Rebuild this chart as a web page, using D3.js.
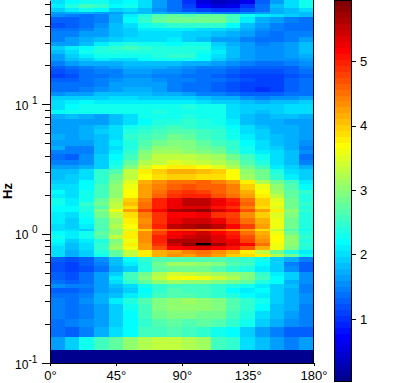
<!DOCTYPE html>
<html>
<head>
<meta charset="utf-8">
<script src="https://cdn.jsdelivr.net/npm/d3@7"></script>
<style>
  html, body { margin: 0; padding: 0; background: #fff; }
  svg { display: block; }
  text { font-family: "Liberation Sans", Arial, sans-serif; fill: #000; }
</style>
</head>
<body>
<div id="chart"></div>
<script>
// bin edges along each axis, power rows run from the highest frequency down
const angleEdges = d3.range(0, 181, 10);
const hzEdges = [64, 59.6, 55.5, 51.7, 49.9, 47.3, 42.5, 38.8, 36.8, 33.1, 30.3, 28.2, 26.3, 24.5, 22.8, 21.6,
    19.8, 18.7, 17.1, 16.0, 14.9, 13.6, 12.4, 11.6, 10.8, 10.05, 9.03, 8.41, 7.69, 6.92, 6.44, 5.89, 5.29, 4.76,
    4.43, 4.13, 3.71, 3.39, 3.16, 2.89, 2.60, 2.42, 2.17, 2.02, 1.88, 1.76, 1.64, 1.55, 1.47, 1.32, 1.19, 1.09,
    1.05, 0.976, 0.909, 0.847, 0.802, 0.747, 0.696, 0.656, 0.604, 0.562, 0.505, 0.470, 0.438, 0.408, 0.380,
    0.348, 0.318, 0.286, 0.252, 0.219, 0.190, 0.159, 0.126, 0.1];

const power = [
    [2.0, 2.2, 2.3, 2.3, 2.1, 2.2, 2.0, 1.65, 1.35, 0.95, 0.55, 0.3, 0.4, 0.6, 1.25, 1.65, 2.05, 2.3],
    [2.1, 2.4, 2.55, 2.45, 2.2, 2.3, 2.0, 1.65, 1.4, 1.1, 0.75, 0.5, 0.65, 0.95, 1.4, 1.8, 2.05, 2.25],
    [1.95, 2.15, 2.3, 2.2, 1.95, 2.0, 1.85, 1.55, 1.4, 1.2, 1.05, 1.0, 1.0, 1.15, 1.4, 1.7, 1.85, 2.0],
    [1.6, 1.7, 1.7, 1.65, 1.65, 1.8, 1.8, 1.7, 1.65, 1.65, 1.55, 1.5, 1.5, 1.55, 1.65, 1.7, 1.8, 1.8],
    [1.55, 1.45, 1.4, 1.45, 1.7, 2.1, 2.4, 2.65, 2.75, 2.7, 2.75, 2.75, 2.55, 2.25, 2.15, 2.0, 1.9, 1.8],
    [1.3, 1.3, 1.4, 1.5, 1.75, 2.2, 2.45, 2.75, 2.85, 2.85, 2.85, 2.8, 2.55, 2.1, 1.7, 1.65, 1.45, 1.4],
    [1.15, 1.3, 1.4, 1.55, 1.8, 2.0, 2.25, 2.4, 2.5, 2.5, 2.5, 2.45, 2.2, 1.85, 1.6, 1.5, 1.4, 1.4],
    [1.4, 1.4, 1.45, 1.6, 1.8, 1.9, 2.1, 2.1, 2.15, 2.1, 2.05, 2.05, 1.9, 1.7, 1.55, 1.45, 1.4, 1.4],
    [1.5, 1.5, 1.65, 1.65, 1.8, 1.9, 2.0, 2.0, 2.0, 1.95, 1.9, 1.8, 1.75, 1.6, 1.5, 1.4, 1.45, 1.5],
    [1.5, 1.6, 1.7, 1.8, 1.95, 2.0, 2.05, 2.05, 2.1, 1.95, 1.8, 1.65, 1.6, 1.5, 1.4, 1.4, 1.45, 1.6],
    [1.6, 1.65, 1.85, 2.15, 2.3, 2.4, 2.3, 2.25, 2.2, 2.3, 2.25, 1.95, 1.75, 1.6, 1.5, 1.55, 1.6, 1.8],
    [1.9, 2.1, 2.2, 2.4, 2.5, 2.55, 2.45, 2.4, 2.4, 2.4, 2.35, 2.05, 1.8, 1.65, 1.55, 1.55, 1.65, 1.85],
    [1.8, 2.0, 2.25, 2.35, 2.35, 2.4, 2.35, 2.35, 2.35, 2.35, 2.25, 2.1, 1.8, 1.65, 1.55, 1.55, 1.65, 1.85],
    [1.65, 1.9, 2.15, 2.25, 2.25, 2.3, 2.3, 2.35, 2.45, 2.5, 2.2, 2.05, 1.85, 1.65, 1.55, 1.55, 1.65, 1.7],
    [1.65, 1.8, 1.9, 2.1, 2.0, 2.05, 2.2, 2.3, 2.3, 2.3, 2.2, 1.95, 1.75, 1.65, 1.55, 1.55, 1.55, 1.65],
    [1.5, 1.6, 1.7, 1.75, 1.75, 1.8, 1.85, 1.85, 1.85, 1.75, 1.7, 1.65, 1.55, 1.45, 1.35, 1.4, 1.45, 1.55],
    [1.3, 1.35, 1.5, 1.55, 1.65, 1.7, 1.7, 1.7, 1.65, 1.55, 1.5, 1.45, 1.35, 1.3, 1.25, 1.25, 1.3, 1.45],
    [1.2, 1.25, 1.4, 1.45, 1.5, 1.6, 1.6, 1.55, 1.55, 1.45, 1.4, 1.35, 1.25, 1.15, 1.15, 1.15, 1.25, 1.35],
    [1.1, 1.15, 1.35, 1.4, 1.45, 1.55, 1.55, 1.5, 1.5, 1.4, 1.35, 1.25, 1.15, 1.1, 1.05, 1.05, 1.15, 1.3],
    [1.3, 1.3, 1.4, 1.45, 1.55, 1.6, 1.6, 1.55, 1.5, 1.45, 1.4, 1.35, 1.25, 1.15, 1.1, 1.1, 1.25, 1.4],
    [1.35, 1.35, 1.4, 1.5, 1.6, 1.65, 1.65, 1.6, 1.45, 1.4, 1.35, 1.25, 1.2, 1.1, 1.05, 1.1, 1.25, 1.4],
    [1.35, 1.4, 1.45, 1.55, 1.65, 1.75, 1.75, 1.6, 1.45, 1.4, 1.35, 1.25, 1.15, 1.1, 1.0, 1.1, 1.3, 1.4],
    [1.55, 1.6, 1.65, 1.8, 1.85, 1.85, 1.8, 1.75, 1.75, 1.65, 1.5, 1.45, 1.4, 1.3, 1.25, 1.3, 1.4, 1.4],
    [1.95, 1.9, 1.95, 1.95, 2.0, 2.0, 1.95, 1.9, 1.9, 1.9, 1.85, 1.7, 1.7, 1.55, 1.5, 1.55, 1.55, 1.6],
    [2.0, 2.1, 2.2, 2.15, 2.15, 2.15, 2.15, 2.1, 2.1, 2.1, 2.0, 1.95, 1.95, 1.85, 1.75, 1.8, 1.85, 1.9],
    [2.05, 2.2, 2.25, 2.25, 2.3, 2.3, 2.3, 2.3, 2.3, 2.35, 2.3, 2.3, 2.05, 1.95, 1.9, 1.95, 2.0, 2.0],
    [2.2, 2.25, 2.3, 2.3, 2.3, 2.3, 2.3, 2.35, 2.3, 2.3, 2.3, 2.25, 2.05, 1.95, 1.85, 1.9, 2.0, 2.05],
    [1.7, 1.8, 1.7, 1.65, 1.85, 2.0, 2.3, 2.3, 2.3, 2.35, 2.3, 2.25, 2.0, 1.8, 1.75, 1.85, 1.85, 1.75],
    [1.6, 1.65, 1.6, 1.65, 1.8, 2.0, 2.2, 2.35, 2.4, 2.45, 2.4, 2.3, 2.1, 1.85, 1.7, 1.7, 1.65, 1.65],
    [1.6, 1.6, 1.7, 1.8, 2.0, 2.3, 2.35, 2.45, 2.55, 2.5, 2.4, 2.35, 2.2, 2.0, 1.8, 1.75, 1.7, 1.65],
    [1.65, 1.65, 1.7, 1.9, 2.05, 2.35, 2.5, 2.6, 2.7, 2.65, 2.6, 2.5, 2.3, 2.05, 1.9, 1.75, 1.7, 1.65],
    [1.75, 1.65, 1.7, 1.85, 2.05, 2.45, 2.6, 2.7, 2.8, 2.75, 2.6, 2.5, 2.3, 2.1, 1.95, 1.8, 1.75, 1.65],
    [1.65, 1.6, 1.65, 1.85, 2.1, 2.35, 2.7, 2.85, 2.95, 2.9, 2.75, 2.6, 2.45, 2.2, 2.0, 1.8, 1.7, 1.55],
    [1.7, 1.5, 1.5, 1.8, 2.05, 2.35, 2.75, 3.0, 3.05, 2.95, 2.85, 2.75, 2.5, 2.3, 2.0, 1.95, 1.7, 1.45],
    [1.45, 1.45, 1.5, 1.85, 2.15, 2.5, 2.9, 3.1, 3.15, 3.05, 2.95, 2.85, 2.6, 2.3, 2.15, 2.05, 1.85, 1.55],
    [1.4, 1.3, 1.55, 1.9, 2.2, 2.6, 3.05, 3.3, 3.35, 3.3, 3.25, 3.15, 2.8, 2.55, 2.3, 2.05, 1.8, 1.4],
    [1.5, 1.45, 1.55, 1.9, 2.25, 2.75, 3.2, 3.35, 3.45, 3.4, 3.3, 3.25, 3.0, 2.7, 2.35, 2.05, 1.8, 1.5],
    [1.65, 1.65, 1.75, 1.95, 2.4, 2.9, 3.4, 3.7, 3.8, 3.8, 3.7, 3.5, 3.2, 2.85, 2.6, 2.15, 1.95, 1.7],
    [1.8, 1.8, 2.0, 2.5, 2.7, 3.3, 3.75, 4.0, 4.15, 4.15, 4.05, 4.0, 3.7, 3.0, 2.85, 2.4, 2.05, 1.9],
    [1.85, 1.9, 2.05, 2.45, 2.85, 3.35, 3.7, 3.85, 3.95, 4.0, 3.9, 3.9, 3.7, 3.15, 2.85, 2.5, 2.1, 1.95],
    [1.95, 1.9, 2.2, 2.5, 2.9, 3.5, 4.1, 4.35, 4.55, 4.55, 4.6, 4.4, 4.25, 3.8, 3.25, 2.85, 2.55, 2.15],
    [2.05, 2.0, 2.2, 2.6, 3.0, 3.6, 4.2, 4.45, 4.65, 4.7, 4.65, 4.6, 4.45, 4.0, 3.6, 3.05, 2.7, 2.2],
    [2.2, 2.05, 2.25, 2.6, 3.05, 3.65, 4.2, 4.5, 4.75, 4.9, 4.8, 4.6, 4.4, 4.15, 3.7, 3.15, 2.75, 2.45],
    [2.15, 2.0, 2.3, 2.6, 3.0, 3.7, 4.25, 4.6, 4.9, 5.0, 4.95, 4.7, 4.5, 4.2, 3.75, 3.3, 2.75, 2.4],
    [2.25, 2.1, 2.3, 2.75, 3.25, 3.95, 4.45, 4.95, 5.25, 5.5, 5.5, 5.25, 4.95, 4.5, 3.95, 3.5, 2.85, 2.4],
    [2.3, 2.15, 2.45, 2.85, 3.3, 4.05, 4.5, 4.95, 5.3, 5.55, 5.55, 5.3, 5.05, 4.6, 4.0, 3.55, 2.85, 2.45],
    [2.2, 2.2, 2.35, 2.7, 3.35, 3.9, 4.55, 4.95, 5.25, 5.35, 5.35, 5.1, 4.85, 4.4, 3.9, 3.5, 2.85, 2.4],
    [2.2, 2.2, 2.4, 2.9, 3.6, 4.2, 4.75, 5.2, 5.6, 5.75, 5.8, 5.45, 5.2, 4.7, 4.25, 3.8, 3.05, 2.45],
    [2.15, 2.05, 2.25, 2.8, 3.3, 3.85, 4.45, 4.9, 5.2, 5.2, 5.25, 4.9, 4.75, 4.35, 3.95, 3.5, 2.9, 2.4],
    [2.1, 1.95, 2.2, 2.7, 3.15, 3.75, 4.35, 4.85, 5.25, 5.4, 5.45, 5.25, 4.9, 4.55, 4.1, 3.55, 2.85, 2.35],
    [2.0, 1.9, 2.15, 2.7, 3.2, 3.7, 4.45, 4.95, 5.55, 5.65, 5.7, 5.55, 5.2, 4.75, 4.2, 3.6, 2.85, 2.4],
    [2.05, 2.0, 1.9, 2.6, 3.0, 3.5, 3.95, 4.5, 4.7, 4.7, 4.6, 4.6, 4.4, 4.2, 3.9, 3.3, 2.7, 2.3],
    [2.2, 2.15, 2.3, 2.75, 3.05, 3.75, 4.3, 4.75, 5.2, 5.3, 5.4, 5.15, 5.0, 4.55, 4.1, 3.55, 2.85, 2.4],
    [2.3, 2.1, 2.3, 2.7, 3.3, 3.8, 4.35, 5.0, 5.3, 5.45, 5.5, 5.35, 5.05, 4.7, 4.25, 3.65, 3.0, 2.45],
    [2.2, 1.9, 2.1, 2.4, 2.95, 3.6, 4.3, 5.0, 5.6, 5.6, 5.65, 5.35, 5.25, 4.8, 4.35, 3.7, 3.05, 2.35],
    [2.1, 1.85, 2.05, 2.45, 3.05, 3.75, 4.2, 4.85, 5.45, 5.8, 5.9, 5.7, 5.35, 5.15, 4.5, 3.6, 3.05, 2.45],
    [2.05, 1.85, 2.05, 2.45, 3.15, 3.55, 4.2, 4.7, 5.15, 5.3, 5.35, 5.15, 5.1, 4.7, 4.1, 3.6, 2.95, 2.4],
    [2.0, 1.75, 1.9, 2.35, 2.75, 3.3, 3.75, 4.1, 4.25, 4.45, 4.55, 4.35, 4.1, 3.75, 3.35, 2.85, 2.35, 2.15],
    [2.0, 1.75, 1.95, 2.3, 2.75, 3.35, 3.75, 4.1, 4.3, 4.2, 4.4, 4.2, 4.0, 3.9, 3.75, 3.25, 2.8, 2.25],
    [1.25, 1.2, 1.3, 1.55, 1.85, 2.2, 2.45, 2.65, 2.65, 2.7, 2.7, 2.65, 2.55, 2.45, 2.25, 1.95, 1.7, 1.5],
    [1.2, 1.1, 1.25, 1.45, 1.85, 2.15, 2.4, 2.8, 3.1, 3.1, 3.05, 2.95, 2.7, 2.6, 2.2, 1.9, 1.5, 1.3],
    [1.15, 1.05, 1.2, 1.4, 1.75, 1.95, 2.4, 2.75, 2.85, 2.85, 2.8, 2.65, 2.5, 2.35, 2.15, 1.9, 1.55, 1.25],
    [1.25, 1.2, 1.35, 1.6, 1.95, 2.55, 2.85, 3.2, 3.4, 3.35, 3.25, 3.15, 3.0, 2.9, 2.5, 2.15, 1.9, 1.55],
    [1.3, 1.2, 1.4, 1.65, 2.1, 2.6, 2.9, 3.3, 3.6, 3.65, 3.6, 3.4, 3.25, 2.95, 2.55, 2.2, 1.9, 1.55],
    [1.35, 1.3, 1.4, 1.65, 2.0, 2.45, 2.75, 3.05, 3.1, 3.05, 3.0, 2.9, 2.8, 2.75, 2.4, 2.2, 1.75, 1.55],
    [1.55, 1.5, 1.5, 1.65, 1.85, 2.05, 2.3, 2.45, 2.55, 2.6, 2.55, 2.5, 2.35, 2.3, 2.1, 1.95, 1.85, 1.5],
    [1.25, 1.3, 1.4, 1.6, 1.7, 1.95, 2.2, 2.5, 2.65, 2.55, 2.6, 2.45, 2.2, 2.15, 2.2, 1.9, 1.7, 1.45],
    [1.4, 1.4, 1.5, 1.7, 1.85, 2.1, 2.3, 2.6, 2.7, 2.65, 2.6, 2.45, 2.35, 2.2, 2.1, 1.9, 1.7, 1.55],
    [1.5, 1.4, 1.55, 1.75, 2.1, 2.4, 2.65, 2.9, 3.05, 3.1, 3.0, 2.95, 2.7, 2.5, 2.25, 1.95, 1.75, 1.55],
    [1.5, 1.4, 1.5, 1.65, 1.95, 2.25, 2.6, 2.9, 3.0, 3.05, 3.0, 2.95, 2.7, 2.5, 2.2, 1.85, 1.75, 1.5],
    [1.5, 1.4, 1.45, 1.65, 1.9, 2.2, 2.55, 2.85, 2.9, 2.9, 2.85, 2.8, 2.6, 2.35, 2.0, 1.85, 1.6, 1.45],
    [1.4, 1.45, 1.55, 1.65, 1.9, 2.2, 2.5, 2.65, 2.75, 2.7, 2.75, 2.65, 2.5, 2.25, 1.95, 1.75, 1.55, 1.45],
    [1.35, 1.3, 1.5, 1.7, 2.0, 2.2, 2.55, 2.6, 2.65, 2.6, 2.5, 2.3, 2.2, 1.9, 1.65, 1.45, 1.3, 1.3],
    [1.6, 1.95, 2.25, 2.6, 2.75, 3.05, 3.2, 3.35, 3.3, 3.25, 3.1, 2.6, 2.45, 2.05, 1.8, 1.6, 1.45, 1.6],
    [0.05, 0.05, 0.05, 0.05, 0.05, 0.05, 0.05, 0.05, 0.05, 0.05, 0.05, 0.05, 0.05, 0.05, 0.05, 0.05, 0.05, 0.05]
];

// the one bin that shows up black in the peak of the map
const peakAngle = [100, 110];
const peakHz = [0.847, 0.817];

const angleTicks = [0, 45, 90, 135, 180];
const hzTicks = [0.1, 0.2, 0.3, 0.4, 0.5, 0.6, 0.7, 0.8, 0.9, 1, 2, 3, 4, 5, 6, 7, 8, 9, 10, 20, 30, 40, 50, 60];
const hzLabels = { 0.1: "-1", 1: "0", 10: "1" };
const colorTicks = [1, 2, 3, 4, 5];
const colorDomain = [0.02, 5.95];

const width = 418;
const height = 383;

const svg = d3.select("#chart").append("svg")
    .attr("width", width)
    .attr("height", height);

const x = d3.scaleLinear().domain([0, 180]).range([50, 313.5]);
const y = d3.scaleLog().domain([0.1, 64]).range([363, 0]);
const colorY = d3.scaleLinear().domain(colorDomain).range([382, 0]);

// MATLAB style jet, 64 steps
const clamp = v => Math.max(0, Math.min(1, v));
const jet = d3.range(64).map(i => {
    const t = (i + 1) / 64;
    return d3.rgb(
        255 * clamp(Math.min(4 * t - 1.5, -4 * t + 4.5)),
        255 * clamp(Math.min(4 * t - 0.5, -4 * t + 3.5)),
        255 * clamp(Math.min(4 * t + 0.5, -4 * t + 2.5))
    ).formatHex();
});
const color = d3.scaleQuantize().domain(colorDomain).range(jet);

// heat map cells
const rows = svg.append("g").attr("shape-rendering", "crispEdges")
    .selectAll("g")
    .data(power)
    .enter()
    .append("g");

rows.selectAll("rect")
    .data((d, i) => d.map((v, j) => ({ v: v, row: i, col: j })))
    .enter()
    .append("rect")
    .attr("x", d => x(angleEdges[d.col]))
    .attr("width", d => x(angleEdges[d.col + 1]) - x(angleEdges[d.col]))
    .attr("y", d => y(hzEdges[d.row]))
    .attr("height", d => y(hzEdges[d.row + 1]) - y(hzEdges[d.row]))
    .attr("fill", d => color(d.v));

svg.append("rect")
    .attr("shape-rendering", "crispEdges")
    .attr("x", x(peakAngle[0]))
    .attr("width", x(peakAngle[1]) - x(peakAngle[0]))
    .attr("y", y(peakHz[0]))
    .attr("height", y(peakHz[1]) - y(peakHz[0]))
    .attr("fill", "#000");

// x axis
const xAxis = svg.append("g")
    .attr("transform", "translate(0,363)")
    .attr("shape-rendering", "crispEdges")
    .call(d3.axisBottom(x).tickValues(angleTicks).tickSizeInner(3).tickSizeOuter(0).tickPadding(5).tickFormat(d => d + "\u00b0"));

// y axis, the minor ticks are shorter and only decades get a label
const yAxis = svg.append("g")
    .attr("transform", "translate(50,0)")
    .attr("shape-rendering", "crispEdges")
    .call(d3.axisLeft(y).tickValues(hzTicks).tickSizeInner(8).tickSizeOuter(0).tickFormat(""));

yAxis.selectAll(".tick line")
    .attr("x2", d => hzLabels[d] ? -8 : -5);

yAxis.selectAll(".tick").each(function(d) {
    if (!hzLabels[d]) return;
    const tick = d3.select(this);
    tick.select("text")
        .attr("class", "decade")
        .attr("x", -35)
        .attr("y", 5)
        .attr("dy", 0)
        .attr("text-anchor", "start")
        .text("10");
    tick.append("text")
        .attr("x", hzLabels[d] === "-1" ? -21.5 : -18)
        .attr("y", -1)
        .attr("text-anchor", "start")
        .attr("font-size", 10)
        .attr("class", "sup")
        .text(hzLabels[d]);
});

// right edge of the map
svg.append("line")
    .attr("x1", x(180)).attr("x2", x(180))
    .attr("y1", 0).attr("y2", 363)
    .attr("stroke", "#000");

// y axis title
svg.append("text")
    .attr("transform", "translate(12,191) rotate(-90)")
    .attr("text-anchor", "middle")
    .attr("font-weight", "bold")
    .attr("font-size", 13)
    .text("Hz");

// colour bar
const bar = svg.append("g").attr("shape-rendering", "crispEdges");
const barStep = (colorDomain[1] - colorDomain[0]) / jet.length;

bar.selectAll("rect")
    .data(jet)
    .enter()
    .append("rect")
    .attr("x", 334)
    .attr("width", 17)
    .attr("y", (d, i) => colorY(colorDomain[0] + (i + 1) * barStep))
    .attr("height", (d, i) => colorY(colorDomain[0] + i * barStep) - colorY(colorDomain[0] + (i + 1) * barStep))
    .attr("fill", d => d);

bar.append("rect")
    .attr("x", 334.5)
    .attr("y", 0.5)
    .attr("width", 17)
    .attr("height", 381)
    .attr("fill", "none")
    .attr("stroke", "#000");

const barAxis = svg.append("g")
    .attr("transform", "translate(351,0)")
    .attr("shape-rendering", "crispEdges")
    .call(d3.axisRight(colorY).tickValues(colorTicks).tickSize(5).tickPadding(4).tickFormat(d3.format("d")));

barAxis.select(".domain").remove();
svg.selectAll(".tick text:not(.sup)").attr("font-size", 13);
svg.selectAll(".tick text.decade").attr("font-size", 12);
svg.selectAll(".tick text").attr("font-family", "Liberation Sans");
</script>
</body>
</html>
